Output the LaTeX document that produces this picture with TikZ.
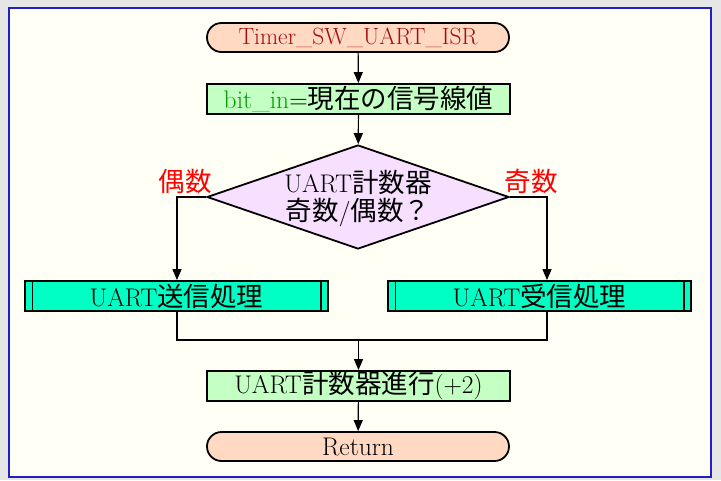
\documentclass[tikz,border=0pt]{standalone}
\usepackage{fontspec}
\setmainfont{Latin Modern Roman}
\newfontfamily\cjk[Scale=1.04]{Noto Sans CJK JP}
\usetikzlibrary{shapes.geometric,arrows.meta}
\definecolor{bggray}{HTML}{E6E6E6}
\definecolor{framebg}{HTML}{FFFFF5}
\definecolor{frameblue}{HTML}{2020C8}
\definecolor{termfill}{HTML}{FFD9C2}
\definecolor{procfill}{HTML}{C4FFC4}
\definecolor{subfill}{HTML}{00FFC4}
\definecolor{decfill}{HTML}{F7E0FF}
\definecolor{darkred}{HTML}{A01010}
\definecolor{bitgreen}{HTML}{00A000}
\tikzset{
  every node/.style={font=\fontsize{25.5}{28}\selectfont, inner sep=0pt},
  term/.style={draw, line width=1.8pt, fill=termfill, rounded corners=14.5pt, minimum width=302pt, minimum height=29pt},
  procbox/.style={draw, line width=1.8pt, fill=procfill, minimum width=303pt, minimum height=30pt},
  subbox/.style={draw, line width=1.8pt, fill=subfill, minimum width=303pt, minimum height=30pt},
  decision/.style={draw, line width=1.8pt, fill=decfill, diamond, shape aspect=2.9, minimum width=302pt, minimum height=104pt},
  conn/.style={line width=1.2pt},
  arr/.style={conn, -{Triangle[length=11pt,width=9pt]}},
  branchlabel/.style={text=red},
}
\begin{document}
\begin{tikzpicture}[x=1pt,y=-1pt]
\useasboundingbox (0,0) rectangle (721,480);
\fill[bggray] (0,0) rectangle (721,480);
\draw[frameblue, line width=2pt, fill=framebg] (9,8) rectangle (711,477);

\node[term] (start) at (358,37.5) {\fontsize{23.5}{26}\selectfont\textcolor{darkred}{Timer\_SW\_UART\_ISR}};
\node[procbox] (bitin) at (358.5,99) {\textcolor{bitgreen}{bit\_in}={\cjk 現在の信号線値}};
\node[decision] (dec) at (358,197) {};
\node[align=center] (dectext) at (358,199) {UART{\cjk 計数器}\\{\cjk 奇数}/{\cjk 偶数？}};
\node[subbox] (send) at (176.5,296) {UART{\cjk 送信処理}};
\node[subbox] (recv) at (539.5,296) {UART{\cjk 受信処理}};
\node[procbox] (adv) at (358.5,386) {UART{\cjk 計数器進行}(+2)};
\node[term] (ret) at (358,446.5) {Return};

\draw[conn] ([xshift=8pt]send.north west) -- ([xshift=8pt]send.south west);
\draw[conn] ([xshift=-8pt]send.north east) -- ([xshift=-8pt]send.south east);
\draw[conn] ([xshift=8pt]recv.north west) -- ([xshift=8pt]recv.south west);
\draw[conn] ([xshift=-8pt]recv.north east) -- ([xshift=-8pt]recv.south east);

\node[branchlabel] (lbleven) at (185,181) {\cjk 偶数};
\node[branchlabel] (lblodd) at (531,181) {\cjk 奇数};

\coordinate (sendin) at ([xshift=0.5pt]send.north);
\coordinate (recvin) at ([xshift=7.5pt]recv.north);
\coordinate (sendout) at ([xshift=0.5pt]send.south);
\coordinate (recvout) at ([xshift=7.5pt]recv.south);
\coordinate (merge) at (358.5,340);

\draw[arr] (start) -- (bitin);
\draw[arr] (bitin) -- (dec);
\draw[arr] (dec.west) -| (sendin);
\draw[arr] (dec.east) -| (recvin);
\draw[conn] (sendout) |- (merge) -| (recvout);
\draw[arr] (merge) -- (adv);
\draw[arr] (adv) -- (ret);
\end{tikzpicture}
\end{document}
